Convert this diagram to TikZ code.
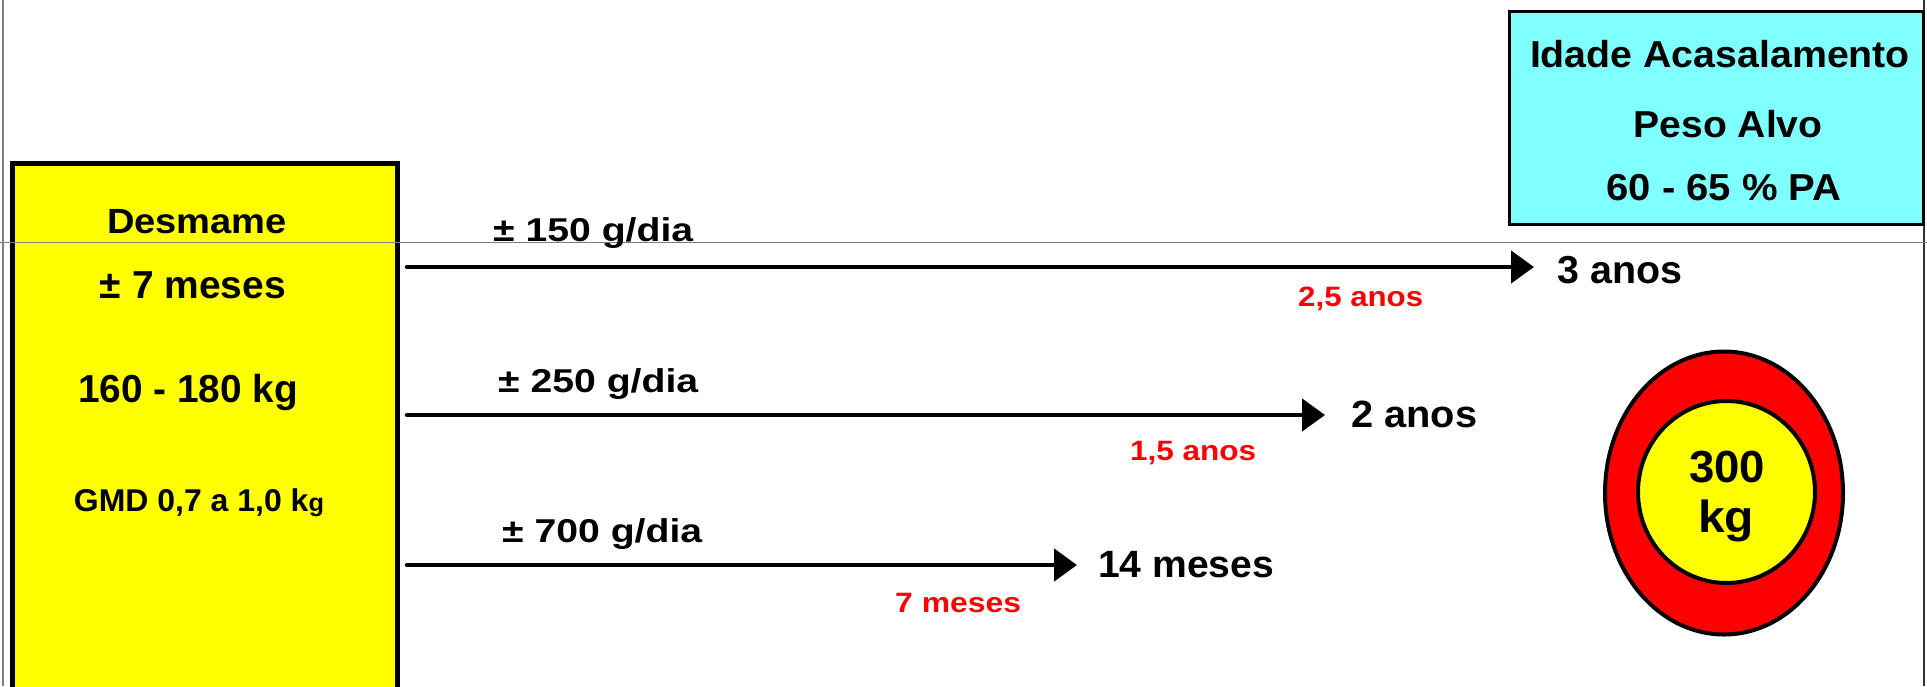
\documentclass[tikz,border=0pt]{standalone}
\usepackage{fontspec}
\setmainfont{Liberation Sans}
\usetikzlibrary{arrows.meta}
\definecolor{yel}{HTML}{FFFF00}
\definecolor{cy}{HTML}{80FFFF}
\definecolor{rd}{HTML}{FF0000}
\definecolor{gline}{HTML}{808080}
\newcommand\fw[3]{\resizebox{#1pt}{\height}{\fontsize{#2}{#2}\selectfont\bfseries #3}}
\begin{document}
\begin{tikzpicture}[x=1pt,y=-1pt,
  lbl/.style={inner sep=0pt, anchor=base west},
  clbl/.style={inner sep=0pt, anchor=base},
  redlbl/.style={lbl, text=rd},
  arr/.style={line width=4.5pt, line cap=round, -{Triangle[length=23pt,width=32pt]}},
  boxline/.style={line width=5pt, draw=black},
  ring/.style={line width=4pt, draw=black}]
\clip (0,0) rectangle (1927,686);
\fill[white] (0,0) rectangle (1927,686);
% frame lines
\draw[gline, line width=2pt] (3,0) -- (3,686);
\draw[black!80, line width=2.5pt] (1924,0) -- (1924,686);
% Desmame box
\draw[boxline, fill=yel] (12.5,163.5) rectangle (397.5,700);
\node[clbl] (desm) at (197,233) {\fw{180}{35}{Desmame}};
\node[clbl] (idade7) at (193,298) {\fw{186}{39}{± 7 meses}};
\node[clbl] (peso) at (188,402) {\fw{220}{39}{160 - 180 kg}};
\node[clbl] (gmd) at (199,511) {\fw{250}{31.5}{GMD 0,7 a 1,0 k{\fontsize{25}{25}\selectfont g}}};
% Target box
\draw[line width=3pt, fill=cy] (1509.5,11.5) rectangle (1923.5,224.5);
\node[clbl] (ida) at (1720,67) {\fw{380}{37.5}{Idade Acasalamento}};
\node[clbl] (alvo) at (1728,137) {\fw{189}{37.5}{Peso Alvo}};
\node[clbl] (pct) at (1724,200) {\fw{235}{37.5}{60 - 65 \% PA}};
% horizontal grey line
\draw[gline, line width=1.5pt] (0,242.5) -- (1927,242.5);
% target rings
\draw[ring, fill=rd] (1724,493) ellipse [x radius=119pt, y radius=141.5pt];
\draw[ring, fill=yel] (1726.5,492) ellipse [x radius=88.5pt, y radius=91pt];
\node[clbl] (w300) at (1727,482) {\fw{76}{45}{300}};
\node[clbl] (wkg) at (1726,532) {\fw{56}{45}{kg}};
% arrows
\coordinate (s1) at (407,267); \coordinate (e1) at (1534,267);
\coordinate (s2) at (407,415); \coordinate (e2) at (1325,415);
\coordinate (s3) at (407,565); \coordinate (e3) at (1077,565);
\draw[arr] (s1) -- (e1);
\draw[arr] (s2) -- (e2);
\draw[arr] (s3) -- (e3);
% labels
\node[lbl] (g150) at (493,241) {\fw{200}{33}{± 150 g/dia}};
\node[lbl] (a3) at (1557,283) {\fw{125}{39}{3 anos}};
\node[redlbl] (r25) at (1298,306) {\fw{125}{28}{2,5 anos}};
\node[lbl] (g250) at (498,392) {\fw{200}{33}{± 250 g/dia}};
\node[lbl] (a2) at (1351,427) {\fw{126}{38}{2 anos}};
\node[redlbl] (r15) at (1130,460) {\fw{126}{28}{1,5 anos}};
\node[lbl] (g700) at (502,542) {\fw{200}{33}{± 700 g/dia}};
\node[lbl] (m14) at (1098,577) {\fw{176}{38}{14 meses}};
\node[redlbl] (r7) at (895,612) {\fw{126}{28}{7 meses}};
\end{tikzpicture}
\end{document}
